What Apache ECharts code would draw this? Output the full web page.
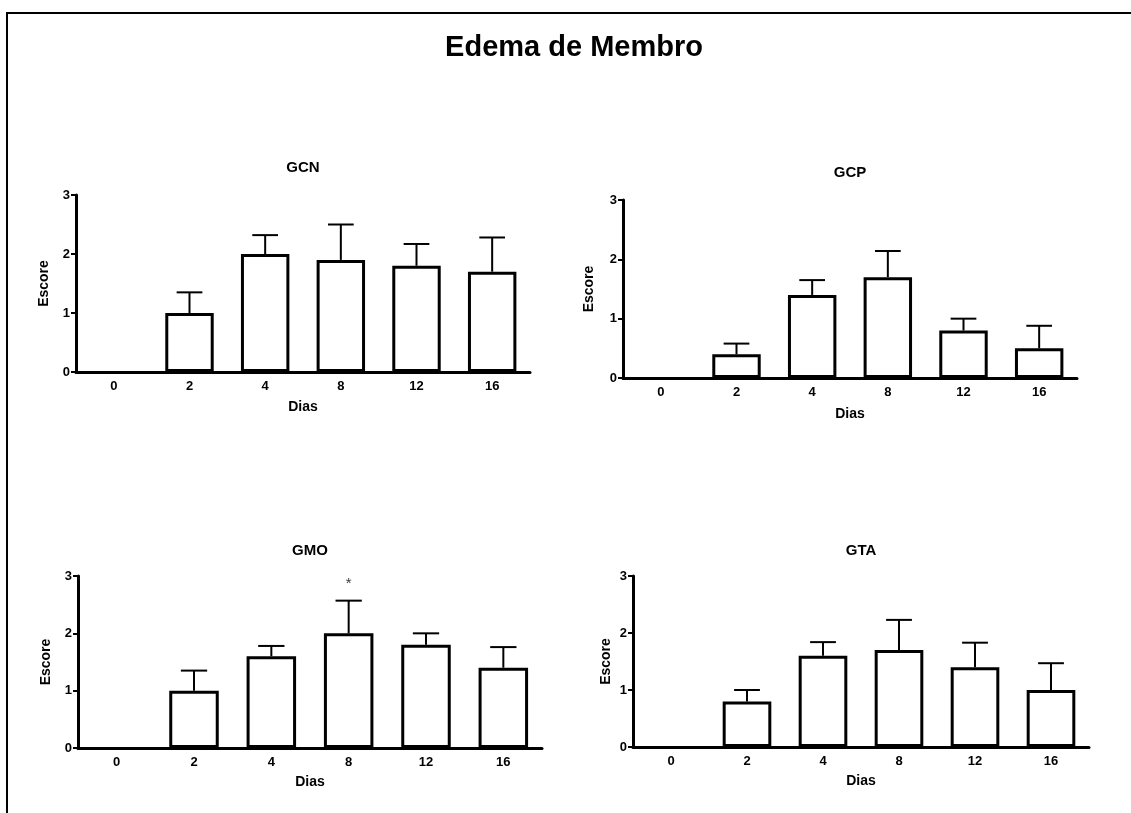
<!DOCTYPE html>
<html>
<head>
<meta charset="utf-8">
<script src="https://cdn.jsdelivr.net/npm/echarts@6/dist/echarts.min.js"></script>
<style>
html,body{margin:0;padding:0;background:#fff;}
#chart{width:1131px;height:813px;}
</style>
</head>
<body>
<div id="chart"></div>
<script>
const categories = ['0', '2', '4', '8', '12', '16'];
const yTicks = [0, 1, 2, 3];

const gcnMean = [0, 1.0, 2.0, 1.9, 1.8, 1.7];
const gcnUpper = [0, 1.35, 2.32, 2.5, 2.17, 2.28];

const gcpMean = [0, 0.4, 1.4, 1.7, 0.8, 0.5];
const gcpUpper = [0, 0.58, 1.65, 2.14, 1.0, 0.88];

const gmoMean = [0, 1.0, 1.6, 2.0, 1.8, 1.4];
const gmoUpper = [0, 1.35, 1.78, 2.57, 2.0, 1.76];

const gtaMean = [0, 0.8, 1.6, 1.7, 1.4, 1.0];
const gtaUpper = [0, 1.0, 1.84, 2.23, 1.83, 1.47];

const gmoStar = [['8', 2.86]];

const mainTitle = 'Edema de Membro';
const panelTitles = ['GCN', 'GCP', 'GMO', 'GTA'];
const xName = 'Dias';
const yName = 'Escore';

const FONT = 'Liberation Sans, Arial, sans-serif';

const panels = [
  {mean: gcnMean, upper: gcnUpper, grid: {left: 76, top: 195, width: 454, height: 177}, tx: 303, ty: 168, xGap: 28, yGap: 25},
  {mean: gcpMean, upper: gcpUpper, grid: {left: 623, top: 200, width: 454, height: 178}, tx: 850, ty: 173, xGap: 29, yGap: 27},
  {mean: gmoMean, upper: gmoUpper, grid: {left: 78, top: 576, width: 464, height: 172}, tx: 310, ty: 551, xGap: 27, yGap: 25},
  {mean: gtaMean, upper: gtaUpper, grid: {left: 633, top: 576, width: 456, height: 171}, tx: 861, ty: 551, xGap: 27, yGap: 20}
];

const grids = [], xAxes = [], yAxes = [], series = [], graphics = [];

graphics.push({
  type: 'rect', shape: {x: 7, y: 13, width: 1200, height: 900},
  style: {fill: 'none', stroke: '#000', lineWidth: 2}, silent: true
});
graphics.push({
  type: 'text', x: 574, y: 48,
  style: {text: mainTitle, fontSize: 29, fontWeight: 'bold', fontFamily: FONT, fill: '#000', textAlign: 'center', textVerticalAlign: 'middle'}
});

panels.forEach((p, i) => {
  grids.push(Object.assign({containLabel: false}, p.grid));
  graphics.push({
    type: 'text', x: p.tx, y: p.ty,
    style: {text: panelTitles[i], fontSize: 15, fontWeight: 'bold', fontFamily: FONT, fill: '#000', textAlign: 'center', textVerticalAlign: 'middle'}
  });
  xAxes.push({
    type: 'category', gridIndex: i, data: categories,
    name: xName, nameLocation: 'middle', nameGap: p.xGap,
    nameTextStyle: {fontSize: 14, fontWeight: 'bold', fontFamily: FONT, color: '#000'},
    axisLine: {show: true, onZero: false, lineStyle: {color: '#000', width: 3}},
    axisTick: {show: false},
    axisLabel: {fontSize: 13, fontWeight: 'bold', fontFamily: FONT, color: '#000', margin: 8},
    splitLine: {show: false}
  });
  yAxes.push({
    type: 'value', gridIndex: i, min: yTicks[0], max: yTicks[yTicks.length - 1], interval: 1,
    name: yName, nameLocation: 'middle', nameGap: p.yGap,
    nameTextStyle: {fontSize: 14, fontWeight: 'bold', fontFamily: FONT, color: '#000'},
    axisLine: {show: true, lineStyle: {color: '#000', width: 3}},
    axisTick: {show: true, length: 5, lineStyle: {color: '#000', width: 2}},
    axisLabel: {fontSize: 13, fontWeight: 'bold', fontFamily: FONT, color: '#000', margin: 6},
    splitLine: {show: false}
  });
  series.push({
    type: 'bar', xAxisIndex: i, yAxisIndex: i,
    data: p.mean.map(v => v === 0 ? {value: v, itemStyle: {borderWidth: 0}} : v),
    barWidth: '64%',
    itemStyle: {color: '#fff', borderColor: '#000', borderWidth: 3},
    silent: true, animation: false
  });
  series.push({
    type: 'custom', xAxisIndex: i, yAxisIndex: i,
    data: p.mean.map((m, k) => [k, m, p.upper[k]]),
    encode: {x: 0, y: [1, 2]},
    renderItem: function (params, api) {
      const m = api.value(1), u = api.value(2);
      if (u <= m) return null;
      const base = api.coord([api.value(0), m]);
      const top = api.coord([api.value(0), u]);
      const half = api.size([1, 0])[0] * 0.17;
      const st = {stroke: '#000', lineWidth: 2, fill: 'none'};
      return {
        type: 'group',
        children: [
          {type: 'line', shape: {x1: base[0], y1: base[1], x2: top[0], y2: top[1]}, style: st},
          {type: 'line', shape: {x1: top[0] - half, y1: top[1], x2: top[0] + half, y2: top[1]}, style: st}
        ]
      };
    },
    z: 3, silent: true, animation: false
  });
});

series.push({
  type: 'scatter', xAxisIndex: 2, yAxisIndex: 2, data: gmoStar,
  symbolSize: 1, itemStyle: {color: 'rgba(0,0,0,0)'},
  label: {show: true, position: 'inside', formatter: '*', fontSize: 15, fontFamily: FONT, color: '#000'},
  silent: true, animation: false
});

const chart = echarts.init(document.getElementById('chart'), null, {renderer: 'canvas'});
chart.setOption({
  backgroundColor: '#fff',
  animation: false,
  grid: grids,
  xAxis: xAxes,
  yAxis: yAxes,
  series: series,
  graphic: graphics
});
</script>
</body>
</html>
